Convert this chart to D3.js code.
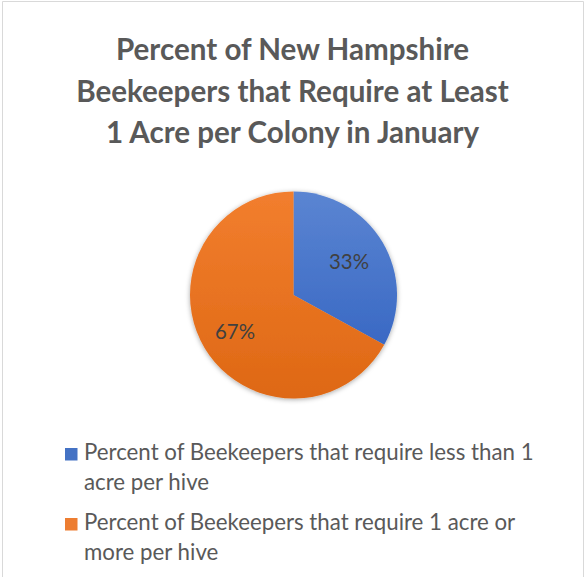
<!DOCTYPE html>
<html>
<head>
<meta charset="utf-8">
<script src="https://cdn.jsdelivr.net/npm/d3@7"></script>
<style>
  html, body { margin: 0; padding: 0; background: #fff; }
  svg { display: block; }
</style>
</head>
<body>
<script>
const titleLines = ["Percent of New Hampshire", "Beekeepers that Require at Least", "1 Acre per Colony in January"];
const categories = [
  "Percent of Beekeepers that require less than 1 acre per hive",
  "Percent of Beekeepers that require 1 acre or more per hive"
];
const values = [33, 67];
const valueLabels = ["33%", "67%"];

const W = 584, H = 577;
const FONT = "Lato, 'Open Sans', 'DejaVu Sans', sans-serif";

const svg = d3.select("body").append("svg").attr("width", W).attr("height", H);
const defs = svg.append("defs");

// border
svg.append("path")
  .attr("d", `M2.5,${H} V1.5 H583.5 V${H}`)
  .attr("fill", "none").attr("stroke", "#d9d9d9").attr("stroke-width", 1);

// fit helper: scale font so text width matches target
function fitWidth(sel, target) {
  const w = sel.node().getComputedTextLength();
  const fs = parseFloat(sel.attr("font-size"));
  return fs * target / w;
}

// Title
const title = svg.append("g");
const tBase = [60, 102, 143];
const tTexts = title.selectAll("text").data(titleLines).join("text")
  .attr("x", 292.5).attr("y", (d, i) => tBase[i])
  .attr("text-anchor", "middle")
  .attr("font-family", FONT).attr("font-weight", "bold")
  .attr("font-size", 30).attr("fill", "#595959")
  .text(d => d);
const tfs = fitWidth(d3.select(tTexts.nodes()[1]), 433);
tTexts.attr("font-size", tfs);

// Pie
const cx = 293.5, cy = 295, r = 103.5;
const colorTop = ["#5b85d2", "#f27e2e"];
const colorBot = ["#2e5fbf", "#de6814"];
const colorLegend = ["#4472c4", "#ed7d31"];

categories.forEach((c, i) => {
  const g = defs.append("linearGradient").attr("id", "grad" + i)
    .attr("gradientUnits", "userSpaceOnUse")
    .attr("x1", 0).attr("y1", cy - r).attr("x2", 0).attr("y2", cy + r);
  g.append("stop").attr("offset", "0%").attr("stop-color", colorTop[i]);
  g.append("stop").attr("offset", "100%").attr("stop-color", colorBot[i]);
});

const filt = defs.append("filter").attr("id", "shadow")
  .attr("x", "-20%").attr("y", "-20%").attr("width", "140%").attr("height", "140%");
filt.append("feDropShadow").attr("dx", 0).attr("dy", 1).attr("stdDeviation", 2.5)
  .attr("flood-color", "#000").attr("flood-opacity", 0.35);

const pie = d3.pie().sort(null).value(d => d)(values);
const arc = d3.arc().innerRadius(0).outerRadius(r);

const pg = svg.append("g").attr("transform", `translate(${cx},${cy})`);
const slices = pg.append("g").attr("filter", "url(#shadow)");
slices.selectAll("path").data(pie).join("path")
  .attr("d", arc)
  .attr("transform", `translate(0,0)`)
  .attr("fill", (d, i) => `url(#grad${i})`)
  .each(function(d, i) {
    // shift gradient into pie-local coords
    d3.select(this).attr("fill", `url(#grad${i})`);
  });
// gradients are defined in absolute coords; fix by using gradientTransform
categories.forEach((c, i) => {
  defs.select("#grad" + i).attr("gradientTransform", `translate(0,${-cy})`);
});

// value labels
const labelArc = d3.arc().innerRadius(r * 0.62).outerRadius(r * 0.62);
const lbls = pg.selectAll("text.val").data(pie).join("text")
  .attr("class", "val")
  .attr("font-family", FONT).attr("font-size", 22).attr("fill", "#404040")
  .attr("text-anchor", "middle")
  .text((d, i) => valueLabels[i]);
const lfs = fitWidth(d3.select(lbls.nodes()[0]), 40);
lbls.attr("font-size", lfs);
const labelPos = [[349 - cx, 269 - cy], [235 - cx, 339 - cy]];
lbls.attr("x", (d, i) => {
  const c = labelArc.centroid(d);
  return c[0] + (labelPos[i][0] - c[0]);
}).attr("y", (d, i) => {
  const c = labelArc.centroid(d);
  return c[1] + (labelPos[i][1] - c[1]);
});

// Legend
const legend = svg.append("g");
const lx = 84, sqX = 65, sqSize = 12.5;
const itemY = [460, 530];
const lineH = 30;
const maxW = 460;

// measure font size from first line
const probe = legend.append("text").attr("font-family", FONT).attr("font-size", 20)
  .text("Percent of Beekeepers that require less than 1");
const legFs = fitWidth(probe, 450);
probe.remove();

categories.forEach((label, i) => {
  const t = legend.append("text")
    .attr("x", lx).attr("y", itemY[i])
    .attr("font-family", FONT).attr("font-size", legFs).attr("fill", "#595959");
  const words = label.split(" ");
  let line = [];
  let tspan = t.append("tspan").attr("x", lx).attr("y", itemY[i]);
  let ln = 0;
  words.forEach(w => {
    line.push(w);
    tspan.text(line.join(" "));
    if (tspan.node().getComputedTextLength() > maxW && line.length > 1) {
      line.pop();
      tspan.text(line.join(" "));
      line = [w];
      ln++;
      tspan = t.append("tspan").attr("x", lx).attr("y", itemY[i] + ln * lineH).text(w);
    }
  });
  legend.append("rect")
    .attr("x", sqX).attr("y", itemY[i] - 12)
    .attr("width", sqSize).attr("height", sqSize)
    .attr("fill", colorLegend[i]);
});
</script>
</body>
</html>
